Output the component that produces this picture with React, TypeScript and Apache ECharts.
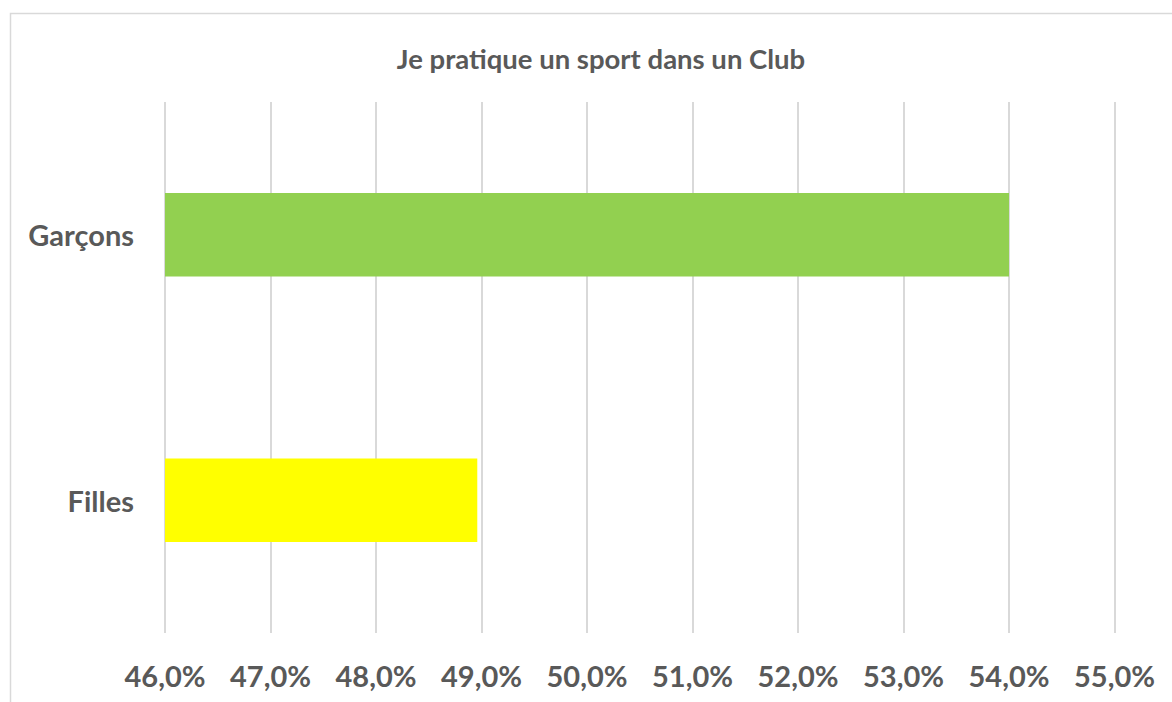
import React, { useEffect, useRef } from "react";
import * as echarts from "echarts";

const categories = ["Garçons", "Filles"];
const values = [54.0, 48.96];
const barColors = ["#92D050", "#FFFF00"];
const titleText = "Je pratique un sport dans un Club";
const xMin = 46;
const xMax = 55;
const xStep = 1;

export default function App() {
  const ref = useRef<HTMLDivElement>(null);
  useEffect(() => {
    if (!ref.current) return;
    const chart = echarts.init(ref.current, undefined, { renderer: "svg" });
    const font = "Lato, 'Open Sans', sans-serif";
    chart.setOption({
      animation: false,
      backgroundColor: "#ffffff",
      title: {
        text: titleText,
        left: 596,
        top: 39,
        textAlign: "center",
        textStyle: { fontFamily: font, fontSize: 27.5, fontWeight: "bold", color: "#595959" },
      },
      graphic: [
        {
          type: "rect",
          shape: { x: 10.5, y: 13.5, width: 1300, height: 1000 },
          style: { fill: "none", stroke: "#d9d9d9", lineWidth: 1.5 },
          silent: true,
          z: -1,
        },
      ],
      grid: { left: 165, right: 57.5, top: 102, bottom: 69, containLabel: false },
      xAxis: {
        type: "value",
        min: xMin,
        max: xMax,
        interval: xStep,
        axisLine: { show: false },
        axisTick: { show: false },
        splitLine: { show: true, lineStyle: { color: "#d9d9d9", width: 2 } },
        axisLabel: {
          margin: 28,
          fontFamily: font,
          fontSize: 29,
          fontWeight: "bold",
          color: "#595959",
          formatter: (v: number) => v.toFixed(1).replace(".", ",") + "%",
        },
      },
      yAxis: {
        type: "category",
        data: categories,
        inverse: true,
        axisLine: { show: false },
        axisTick: { show: false },
        axisLabel: {
          margin: 31,
          fontFamily: font,
          fontSize: 29,
          fontWeight: "bold",
          color: "#595959",
        },
      },
      series: [
        {
          type: "bar",
          data: values.map((v, i) => ({ value: v, itemStyle: { color: barColors[i] } })),
          barWidth: "31.5%",
        },
      ],
    });
    return () => chart.dispose();
  }, []);
  return (
    <div
      ref={ref}
      style={{ position: "fixed", left: 0, top: 0, width: 1172, height: 702 }}
    />
  );
}
